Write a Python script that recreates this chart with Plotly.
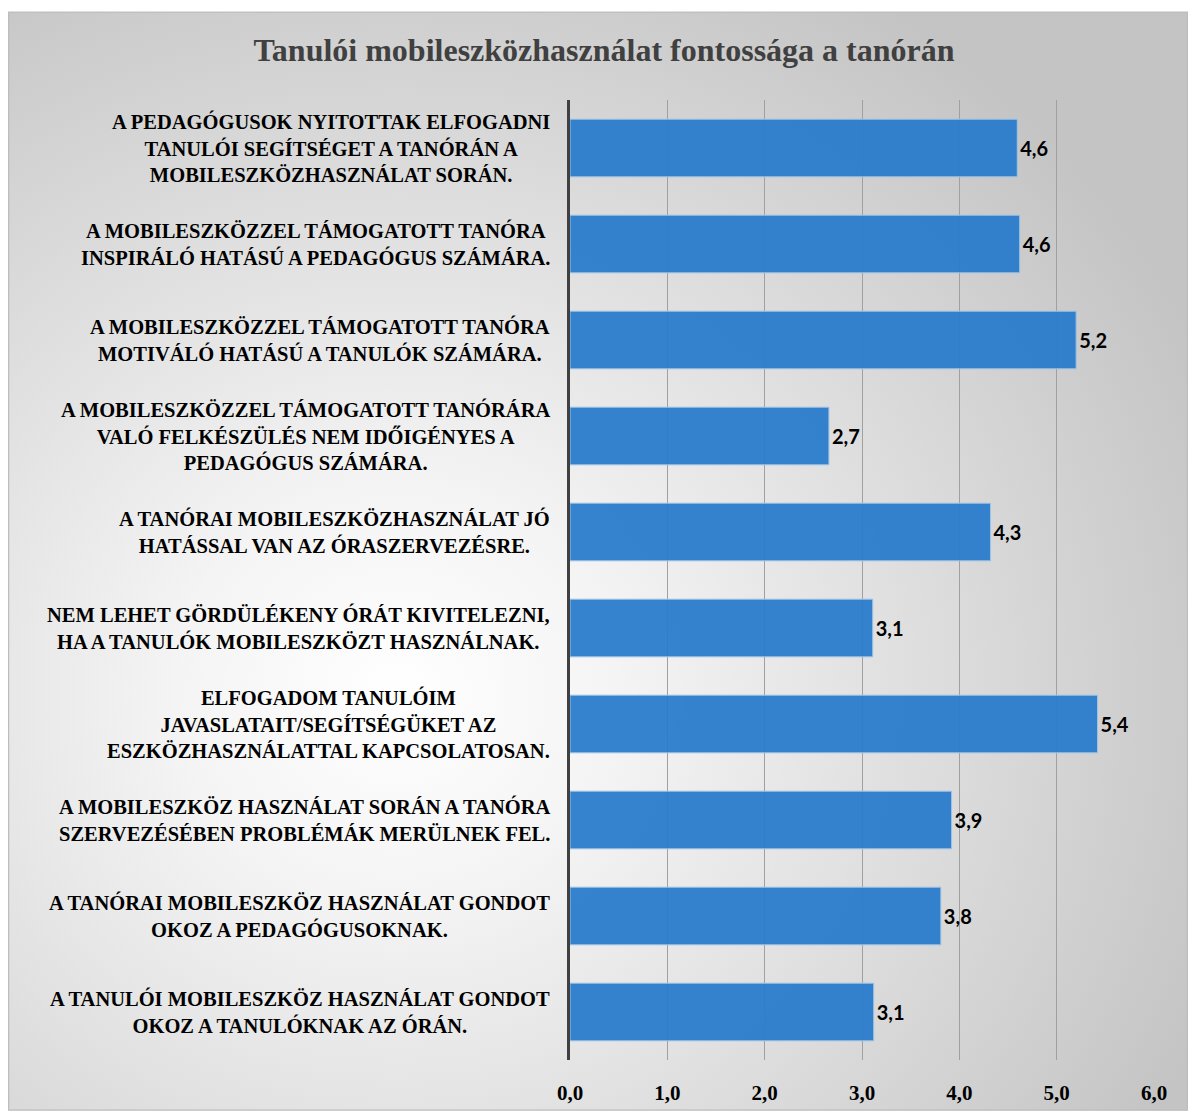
import base64
import plotly.graph_objects as go

categories = [
    "A PEDAGÓGUSOK NYITOTTAK ELFOGADNI<br>TANULÓI SEGÍTSÉGET A TANÓRÁN A<br>MOBILESZKÖZHASZNÁLAT SORÁN.",
    "A MOBILESZKÖZZEL TÁMOGATOTT TANÓRA<br>INSPIRÁLÓ HATÁSÚ A PEDAGÓGUS SZÁMÁRA.",
    "A MOBILESZKÖZZEL TÁMOGATOTT TANÓRA<br>MOTIVÁLÓ HATÁSÚ A TANULÓK SZÁMÁRA.",
    "A MOBILESZKÖZZEL TÁMOGATOTT TANÓRÁRA<br>VALÓ FELKÉSZÜLÉS NEM IDŐIGÉNYES A<br>PEDAGÓGUS SZÁMÁRA.",
    "A TANÓRAI MOBILESZKÖZHASZNÁLAT JÓ<br>HATÁSSAL VAN AZ ÓRASZERVEZÉSRE.",
    "NEM LEHET GÖRDÜLÉKENY ÓRÁT KIVITELEZNI,<br>HA A TANULÓK MOBILESZKÖZT HASZNÁLNAK.",
    "ELFOGADOM TANULÓIM<br>JAVASLATAIT/SEGÍTSÉGÜKET AZ<br>ESZKÖZHASZNÁLATTAL KAPCSOLATOSAN.",
    "A MOBILESZKÖZ HASZNÁLAT SORÁN A TANÓRA<br>SZERVEZÉSÉBEN PROBLÉMÁK MERÜLNEK FEL.",
    "A TANÓRAI MOBILESZKÖZ HASZNÁLAT GONDOT<br>OKOZ A PEDAGÓGUSOKNAK.",
    "A TANULÓI MOBILESZKÖZ HASZNÁLAT GONDOT<br>OKOZ A TANULÓKNAK AZ ÓRÁN.",
]
values = [4.595, 4.62, 5.2, 2.66, 4.32, 3.11, 5.42, 3.92, 3.81, 3.12]
tick_vals = [0, 1, 2, 3, 4, 5, 6]

W, H = 1188, 1117
ML, MR, MT, MB = 570, 34, 100, 51
PW, PH = W - ML - MR, H - MT - MB

# Background: radial gradient chart area
svg = f'''<svg xmlns="http://www.w3.org/2000/svg" width="1180" height="1106" viewBox="0 0 1180 1106" preserveAspectRatio="none">
<defs><radialGradient id="g" cx="0.33" cy="0.62" r="0.75" fx="0.33" fy="0.62">
<stop offset="0" stop-color="#ffffff"/><stop offset="0.25" stop-color="#f4f4f4"/><stop offset="1" stop-color="#c4c4c4"/></radialGradient></defs>
<rect x="0" y="0" width="1180" height="1106" fill="url(#g)"/>
<rect x="0.5" y="0.5" width="1179" height="1105" fill="none" stroke="#bdbdbd" stroke-width="1.5"/>
</svg>'''
uri = "data:image/svg+xml;base64," + base64.b64encode(svg.encode()).decode()

fig = go.Figure()
fig.add_trace(go.Bar(
    x=values, y=categories, orientation="h",
    width=0.6,
    marker=dict(color="rgba(40,123,204,0.94)", line=dict(color="#9dc3e6", width=1)),
    texttemplate="%{x:.1f}", textposition="outside",
    textfont=dict(family="Lato", size=20, color="#000000", weight="bold"),
    cliponaxis=False,
))

for c in categories:
    fig.add_annotation(
        x=0, y=c, xref="paper", yref="y", xanchor="right", yanchor="middle",
        xshift=-18, text=c, showarrow=False, align="center",
        font=dict(family="Liberation Serif", size=20.5, color="#000000", weight="bold"),
    )

fig.add_layout_image(dict(
    source=uri, xref="paper", yref="paper",
    x=(8 - ML) / PW, y=(H - MB - 11) / PH,
    sizex=(W - 8) / PW, sizey=(H - 11) / PH,
    xanchor="left", yanchor="top", sizing="stretch", layer="below",
))

fig.update_layout(
    width=W, height=H,
    margin=dict(l=ML, r=MR, t=MT, b=MB, pad=0),
    paper_bgcolor="#ffffff", plot_bgcolor="rgba(0,0,0,0)",
    separators=", ",
    showlegend=False,
    title=dict(text="Tanulói mobileszközhasználat fontossága a tanórán",
               x=604 / W, xanchor="center", y=1 - 50 / H, yanchor="middle", yref="container",
               font=dict(family="Liberation Serif", size=32, color="#404040", weight="bold")),
    xaxis=dict(range=[0, 6], tickvals=tick_vals, tickformat=".1f",
               showgrid=True, gridcolor="#a0a0a0", gridwidth=1, zeroline=False,
               ticks="", ticklabelstandoff=18,
               tickfont=dict(family="Liberation Serif", size=21, color="#000000", weight="bold"),
               showline=False, fixedrange=True),
    yaxis=dict(autorange="reversed", showticklabels=False, showgrid=False,
               showline=True, linecolor="#404040", linewidth=3, ticks="",
               zeroline=False),
    bargap=0.4,
)
fig.write_html("out.html")
